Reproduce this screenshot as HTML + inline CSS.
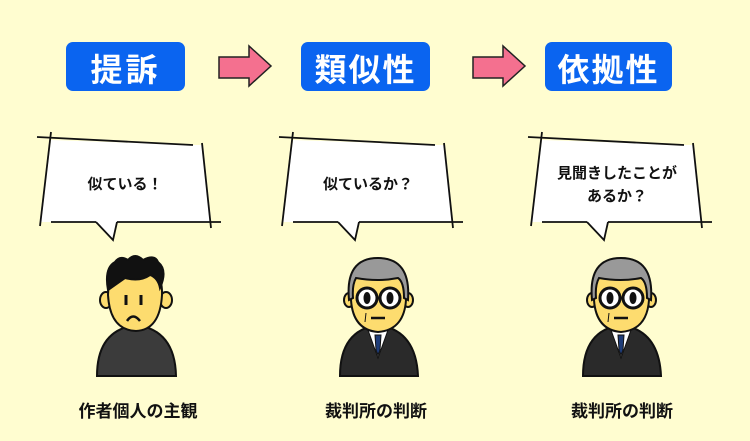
<!DOCTYPE html>
<html><head><meta charset="utf-8"><style>
body{margin:0;background:#fffdd0;}
svg{display:block}
text{font-family:"Liberation Sans","Noto Sans CJK JP",sans-serif;font-weight:bold}
</style></head><body>
<svg width="750" height="441" viewBox="0 0 750 441" xmlns="http://www.w3.org/2000/svg">
<rect width="750" height="441" fill="#fffdd0"/>
<defs>
<g id="arrow"><path d="M0,11 H30 V0 L52,20 L30,40 V32 H0 Z" fill="#f4708f" stroke="#222" stroke-width="1.5" stroke-linejoin="miter"/></g>
<g id="bubble">
<path d="M51,140 L193,145 L203,145 L211,222 L117,222 L113,240 L96,222 L40,222 Z" fill="#fff"/>
<g stroke="#111" stroke-width="1.8" fill="none">
<line x1="37" y1="137" x2="193" y2="145"/>
<line x1="51" y1="132" x2="40" y2="226"/>
<line x1="202" y1="143" x2="211" y2="228"/>
<line x1="51" y1="222" x2="96" y2="222"/>
<line x1="117" y1="222" x2="221" y2="222"/>
<polyline points="96,222 113,240 117,222"/>
</g>
</g>
<g id="judge" stroke="#111" stroke-width="2">
<path d="M340,376 Q340,330 378,325 Q416,330 418,376 Z" fill="#2a2a2a"/>
<path d="M368,330 L378,358 L388,330 Z" fill="#fff" stroke-width="1"/>
<path d="M375,335 L381,335 L380,350 L378,355 L376,350 Z" fill="#1e3c78" stroke-width="1"/>
<ellipse cx="349" cy="300" rx="5" ry="7" fill="#fddc6f"/>
<ellipse cx="408" cy="300" rx="5" ry="7" fill="#fddc6f"/>
<path d="M351,300 Q349,262 378,260 Q408,262 406,300 Q404,330 378,332 Q353,330 351,300 Z" fill="#fddc6f"/>
<path d="M349,300 Q345,258 378,258 Q411,258 408,300 L404,298 Q404,282 398,278 Q378,282 356,278 Q352,285 353,298 Z" fill="#999"/>
<circle cx="367" cy="298" r="10" fill="#fff" stroke-width="3"/>
<circle cx="390" cy="298" r="10" fill="#fff" stroke-width="3"/>
<line x1="377" y1="298" x2="380" y2="298" stroke-width="3"/>
<ellipse cx="367" cy="298" rx="2.5" ry="5" fill="#111"/>
<ellipse cx="390" cy="298" rx="2.5" ry="5" fill="#111"/>
<line x1="371" y1="318" x2="385" y2="318" stroke-width="2.5"/>
<line x1="366" y1="313" x2="365" y2="322" stroke-width="1"/>
</g>
</defs>
<rect x="66" y="42" width="119" height="49" rx="7" fill="#0a64f0"/>
<text x="125.5" y="81" font-size="32" fill="#fff" text-anchor="middle" letter-spacing="3">提訴</text>
<rect x="301" y="42" width="129" height="49" rx="7" fill="#0a64f0"/>
<text x="365.5" y="81" font-size="32" fill="#fff" text-anchor="middle" letter-spacing="2">類似性</text>
<rect x="545" y="42" width="127" height="49" rx="7" fill="#0a64f0"/>
<text x="608.5" y="81" font-size="32" fill="#fff" text-anchor="middle" letter-spacing="2">依拠性</text>
<use href="#arrow" transform="translate(219,46)"/>
<use href="#arrow" transform="translate(473,46)"/>
<use href="#bubble"/>
<use href="#bubble" transform="translate(242,0)"/>
<use href="#bubble" transform="translate(491,0)"/>
<text x="125" y="189" font-size="15" fill="#111" text-anchor="middle">似ている！</text>
<text x="368" y="189" font-size="15" fill="#111" text-anchor="middle">似ているか？</text>
<text x="617" y="178" font-size="15" fill="#111" text-anchor="middle">見聞きしたことが</text>
<text x="617" y="201" font-size="15" fill="#111" text-anchor="middle">あるか？</text>
<g stroke="#111" stroke-width="2">
<path d="M97,376 Q97,330 136,325 Q175,330 176,376 Z" fill="#3b3b3b"/>
<ellipse cx="106" cy="300" rx="6" ry="8" fill="#fddc6f"/>
<ellipse cx="166" cy="300" rx="6" ry="8" fill="#fddc6f"/>
<path d="M108,295 Q108,265 136,265 Q163,265 162,295 Q160,330 136,331 Q110,330 108,295 Z" fill="#fddc6f"/>
<path d="M108,290 Q104,268 115,262 Q120,255 128,260 Q135,252 143,260 Q155,254 158,262 Q168,270 160,288 Q158,278 150,275 Q140,282 125,278 Q115,285 108,290 Z" fill="#111"/>
<line x1="126" y1="295" x2="126" y2="305" stroke-width="3"/>
<line x1="141" y1="295" x2="141" y2="305" stroke-width="3"/>
<path d="M127,321 Q133,312 140,321" fill="none" stroke-width="2.5"/>
</g>
<use href="#judge"/>
<use href="#judge" transform="translate(243,0)"/>
<text x="138" y="417" font-size="17" fill="#111" text-anchor="middle">作者個人の主観</text>
<text x="376" y="417" font-size="17" fill="#111" text-anchor="middle">裁判所の判断</text>
<text x="622" y="417" font-size="17" fill="#111" text-anchor="middle">裁判所の判断</text>
</svg>
</body></html>
